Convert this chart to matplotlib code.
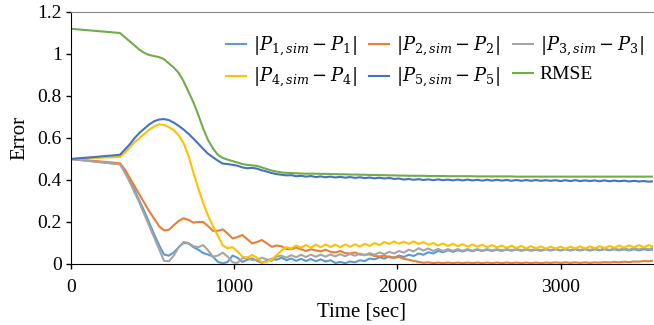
import matplotlib.pyplot as plt
from matplotlib.ticker import FuncFormatter
import numpy as np

plt.rcParams['font.family'] = ['Liberation Serif', 'DejaVu Serif']
plt.rcParams['mathtext.fontset'] = 'dejavuserif'

# time axis: start point, then one sample every 30 s from 300 s
time = [0] + list(range(300, 3571, 30))

p1 = [0.50,
      0.475, 0.44, 0.395, 0.35, 0.30, 0.25, 0.195, 0.14, 0.09, 0.045,
      0.04, 0.055, 0.08, 0.1, 0.098, 0.08, 0.068, 0.052, 0.045, 0.035,
      0.01, 0.003, 0.01, 0.04, 0.03, 0.01, 0.02, 0.027, 0.015, 0.006,
      0.015, 0.025, 0.02, 0.03, 0.018, 0.026, 0.015, 0.025, 0.014, 0.024,
      0.013, 0.022, 0.012, 0.018, 0.005, 0.01, 0.004, 0.012, 0.008, 0.018,
      0.014, 0.026, 0.022, 0.032, 0.026, 0.036, 0.03, 0.04, 0.034, 0.044,
      0.038, 0.05, 0.044, 0.056, 0.05, 0.062, 0.056, 0.066, 0.058, 0.066,
      0.06, 0.067, 0.061, 0.068, 0.062, 0.068, 0.062, 0.068, 0.062, 0.069,
      0.063, 0.069, 0.063, 0.069, 0.063, 0.069, 0.063, 0.07, 0.064, 0.07,
      0.064, 0.07, 0.064, 0.07, 0.064, 0.07, 0.064, 0.07, 0.065, 0.07,
      0.065, 0.07, 0.065, 0.07, 0.065, 0.07, 0.065, 0.07, 0.066, 0.07]

p2 = [0.50,
      0.48, 0.45, 0.41, 0.37, 0.33, 0.29, 0.25, 0.215, 0.18, 0.16,
      0.163, 0.185, 0.205, 0.218, 0.21, 0.197, 0.2, 0.2, 0.18, 0.158,
      0.158, 0.165, 0.145, 0.122, 0.128, 0.138, 0.118, 0.098, 0.105, 0.114,
      0.098, 0.082, 0.088, 0.084, 0.072, 0.07, 0.078, 0.07, 0.062, 0.07,
      0.065, 0.06, 0.068, 0.058, 0.055, 0.062, 0.052, 0.05, 0.055, 0.045,
      0.044, 0.046, 0.038, 0.036, 0.04, 0.032, 0.03, 0.033, 0.025, 0.02,
      0.015, 0.01, 0.006, 0.008, 0.004, 0.007, 0.004, 0.007, 0.004, 0.007,
      0.004, 0.007, 0.004, 0.007, 0.004, 0.007, 0.004, 0.007, 0.004, 0.007,
      0.004, 0.007, 0.004, 0.007, 0.004, 0.007, 0.004, 0.007, 0.005, 0.008,
      0.005, 0.008, 0.005, 0.008, 0.005, 0.008, 0.005, 0.008, 0.006, 0.009,
      0.007, 0.01, 0.008, 0.011, 0.009, 0.012, 0.011, 0.014, 0.013, 0.016]

p3 = [0.50,
      0.475, 0.435, 0.39, 0.34, 0.29, 0.235, 0.18, 0.125, 0.07, 0.015,
      0.013, 0.04, 0.08, 0.105, 0.1, 0.085, 0.08, 0.09, 0.065, 0.035,
      0.04, 0.054, 0.035, 0.008, 0.005, 0.027, 0.03, 0.018, 0.02, 0.03,
      0.022, 0.015, 0.035, 0.04, 0.03, 0.042, 0.032, 0.044, 0.033, 0.045,
      0.034, 0.045, 0.035, 0.046, 0.036, 0.047, 0.037, 0.048, 0.039, 0.05,
      0.041, 0.052, 0.044, 0.055, 0.047, 0.058, 0.05, 0.062, 0.054, 0.068,
      0.06, 0.075, 0.064, 0.074, 0.062, 0.072, 0.062, 0.071, 0.063, 0.071,
      0.063, 0.071, 0.063, 0.071, 0.064, 0.071, 0.064, 0.071, 0.064, 0.072,
      0.065, 0.072, 0.065, 0.072, 0.065, 0.072, 0.065, 0.072, 0.066, 0.073,
      0.066, 0.073, 0.066, 0.073, 0.066, 0.073, 0.067, 0.074, 0.067, 0.074,
      0.067, 0.074, 0.068, 0.075, 0.068, 0.075, 0.069, 0.076, 0.07, 0.077]

p4 = [0.50,
      0.51, 0.53, 0.555, 0.58, 0.60, 0.62, 0.64, 0.655, 0.665, 0.662,
      0.652, 0.637, 0.613, 0.575, 0.515, 0.435, 0.36, 0.29, 0.23, 0.18,
      0.135, 0.088, 0.075, 0.08, 0.06, 0.035, 0.03, 0.043, 0.03, 0.006,
      0.01, 0.022, 0.042, 0.065, 0.08, 0.073, 0.088, 0.078, 0.09, 0.078,
      0.092, 0.08, 0.093, 0.081, 0.092, 0.08, 0.093, 0.082, 0.094, 0.083,
      0.096, 0.086, 0.1, 0.09, 0.105, 0.095, 0.108, 0.097, 0.106, 0.096,
      0.108, 0.096, 0.104, 0.092, 0.1, 0.088, 0.098, 0.086, 0.096, 0.085,
      0.094, 0.083, 0.093, 0.082, 0.092, 0.08, 0.09, 0.079, 0.088, 0.077,
      0.087, 0.076, 0.086, 0.075, 0.085, 0.074, 0.084, 0.073, 0.083, 0.073,
      0.083, 0.073, 0.083, 0.074, 0.084, 0.074, 0.084, 0.075, 0.085, 0.076,
      0.086, 0.077, 0.088, 0.078, 0.089, 0.079, 0.09, 0.08, 0.09, 0.082]

p5 = [0.50,
      0.52, 0.545, 0.57, 0.60, 0.625, 0.645, 0.665, 0.68, 0.688, 0.69,
      0.685, 0.673, 0.658, 0.64, 0.62, 0.597, 0.573, 0.548, 0.525, 0.508,
      0.492, 0.478, 0.476, 0.472, 0.468, 0.46, 0.456, 0.458, 0.454, 0.446,
      0.44, 0.433, 0.428, 0.425, 0.422, 0.423, 0.418, 0.42, 0.416, 0.419,
      0.414, 0.417, 0.413, 0.416, 0.412, 0.415, 0.411, 0.414, 0.41, 0.413,
      0.409, 0.412, 0.408, 0.411, 0.407, 0.41, 0.405, 0.407, 0.402, 0.405,
      0.401, 0.404, 0.4, 0.403, 0.399, 0.403, 0.399, 0.402, 0.398, 0.402,
      0.398, 0.402, 0.398, 0.401, 0.397, 0.401, 0.397, 0.401, 0.397, 0.4,
      0.396, 0.4, 0.396, 0.4, 0.396, 0.4, 0.396, 0.399, 0.396, 0.399,
      0.395, 0.399, 0.395, 0.399, 0.395, 0.398, 0.395, 0.398, 0.394, 0.398,
      0.394, 0.397, 0.394, 0.397, 0.393, 0.396, 0.393, 0.395, 0.392, 0.394]

rmse = [1.12,
        1.10, 1.08, 1.06, 1.04, 1.02, 1.005, 0.995, 0.99, 0.985, 0.975,
        0.955, 0.935, 0.91, 0.87, 0.82, 0.77, 0.71, 0.645, 0.59, 0.55,
        0.52, 0.505, 0.497, 0.49, 0.483, 0.476, 0.472, 0.47, 0.467, 0.46,
        0.452, 0.445, 0.44, 0.436, 0.434, 0.433, 0.432, 0.431, 0.43, 0.43,
        0.43, 0.429, 0.429, 0.428, 0.428, 0.427, 0.427, 0.426, 0.426, 0.425,
        0.425, 0.424, 0.424, 0.423, 0.423, 0.422, 0.422, 0.421, 0.421, 0.42,
        0.42, 0.42, 0.42, 0.419, 0.419, 0.419, 0.419, 0.418, 0.418, 0.418,
        0.418, 0.418, 0.418, 0.417, 0.417, 0.417, 0.417, 0.417, 0.417, 0.417,
        0.417, 0.416, 0.416, 0.416, 0.416, 0.416, 0.416, 0.416, 0.416, 0.416,
        0.416, 0.416, 0.416, 0.416, 0.416, 0.416, 0.416, 0.416, 0.416, 0.416,
        0.416, 0.416, 0.416, 0.416, 0.416, 0.416, 0.416, 0.416, 0.416, 0.416]

labels = [r'$|P_{1,sim}-P_1|$', r'$|P_{2,sim}-P_2|$', r'$|P_{3,sim}-P_3|$',
          r'$|P_{4,sim}-P_4|$', r'$|P_{5,sim}-P_5|$', 'RMSE']
colors = ['#5B9BD5', '#ED7D31', '#A5A5A5', '#FFC000', '#4472C4', '#70AD47']
series = [p1, p2, p3, p4, p5, rmse]

fig = plt.figure(figsize=(6.54, 3.25), dpi=100)
ax = fig.add_axes([0.1086, 0.1877, 0.8894, 0.7754])

lines = []
for vals, c, lab in zip(series, colors, labels):
    ln, = ax.plot(time, vals, color=c, lw=1.5, label=lab)
    lines.append(ln)

ax.set_xlim(0, 3565)
ax.set_ylim(0, 1.2)
ax.set_xticks([0, 1000, 2000, 3000])
ax.set_yticks(np.arange(0, 1.21, 0.2))
ax.yaxis.set_major_formatter(FuncFormatter(lambda v, p: f'{v:g}'))
ax.tick_params(labelsize=14, length=3.5, width=1, colors='black')
ax.tick_params(axis='x', pad=7)
ax.tick_params(axis='y', pad=3)

ax.spines['right'].set_visible(False)
ax.spines['top'].set_color('#888888')
ax.spines['left'].set_color('black')
ax.spines['bottom'].set_color('black')

ax.set_xlabel('Time [sec]', fontsize=15, labelpad=5)
ax.set_ylabel('Error', fontsize=15, labelpad=6)

# matplotlib fills legend columns first, so reorder to get row-wise order
order = [0, 3, 1, 4, 2, 5]
leg = ax.legend([lines[i] for i in order], [labels[i] for i in order],
                ncol=3, frameon=False, fontsize=13, loc='upper right',
                bbox_to_anchor=(1.0, 0.947), handlelength=1.1,
                handletextpad=0.4, columnspacing=0.7, labelspacing=0.45,
                borderaxespad=0.1)
for txt in leg.get_texts():
    if txt.get_text() == 'RMSE':
        txt.set_fontsize(14)

fig.savefig('out.png', dpi=100)
